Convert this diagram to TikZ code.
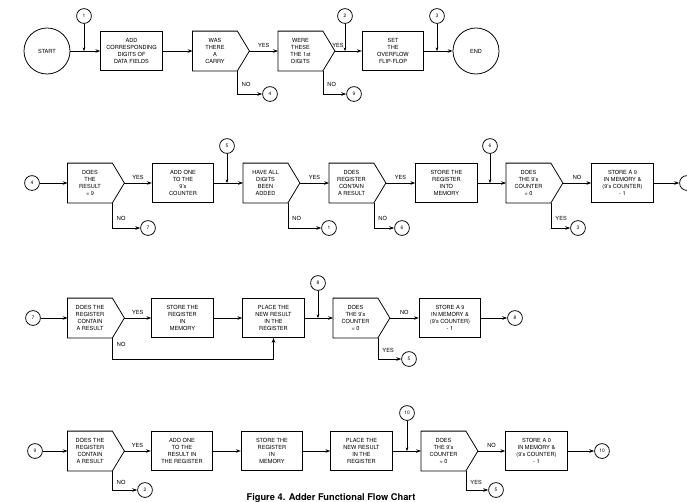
\documentclass[tikz,border=0pt]{standalone}
\usepackage{fontspec}
\setmainfont{TeX Gyre Heros}
\usetikzlibrary{arrows.meta, positioning, calc}

\begin{document}
\begin{tikzpicture}[
      x=0.025cm, y=-0.025cm, line width=0.55pt,
      every node/.style={font=\fontsize{4}{5}\selectfont, inner sep=0pt},
      process/.style={draw, rectangle, minimum width=1.54cm, minimum height=0.975cm, align=center},
      decision/.style={rectangle, minimum width=1.1cm, minimum height=0.975cm, align=center},
      terminal/.style={draw, circle, minimum size=1.15cm},
      conn/.style={draw, circle, minimum size=0.37cm, font=\fontsize{3.5}{4}\selectfont},
      msg/.style={-{Stealth[length=3.5pt, width=2.5pt]}},
      tap/.style={-{Stealth[length=2.5pt, width=2pt]}},
      lbl/.style={above=2pt, midway},
      side/.style={right=3pt, pos=0.3}
    ]
    \useasboundingbox (0,0) rectangle (687,502);

    % Zeile 1
    \node[terminal] (start) at (47,51)     {START};
    \node[process]  (add)   at (131.5,51)  {ADD\\CORRESPONDING\\DIGITS OF\\DATA FIELDS};
    \node[decision] (carry) at (215,51)    {WAS\\THERE\\A\\CARRY};
    \node[decision] (first) at (300.5,51)  {WERE\\THESE\\THE 1st\\DIGITS};
    \node[process]  (flip)  at (393,51)    {SET\\THE\\OVERFLOW\\FLIP-FLOP};
    \node[terminal] (stop)  at (476,51)    {END};
    \node[conn] (c1a) at (84,16)  {1};
    \node[conn] (c2a) at (345,16) {2};
    \node[conn] (c3a) at (437,16) {3};
    \node[conn] (c4a) at (270,94) {4};
    \node[conn] (c9a) at (354,94) {9};

    % Zeile 2
    \node[conn]     (c4b)     at (32,183)    {4};
    \node[decision] (res9)    at (90,183)    {DOES\\THE\\RESULT\\= 9};
    \node[process]  (addnine) at (183,183)   {ADD ONE\\TO THE\\9's\\COUNTER};
    \node[decision] (alldone) at (265.5,183) {HAVE ALL\\DIGITS\\BEEN\\ADDED};
    \node[decision] (regres)  at (351.5,183) {DOES\\REGISTER\\CONTAIN\\A RESULT};
    \node[process]  (intomem) at (446.5,183) {STORE THE\\REGISTER\\INTO\\MEMORY};
    \node[decision] (cnt9)    at (528.5,183) {DOES\\THE 9's\\COUNTER\\= 0};
    \node[process]  (store9)  at (622.5,183) {STORE A 9\\IN MEMORY \&\\(9's COUNTER)\\- 1};
    \node[conn] (cout) at (687,183) {};
    \node[conn] (c5b)  at (227,146) {5};
    \node[conn] (c6b)  at (490,146) {6};
    \node[conn] (c7b)  at (148,228) {7};
    \node[conn] (c1b)  at (329,228) {1};
    \node[conn] (c6c)  at (402,228) {6};
    \node[conn] (c3b)  at (578,228) {3};

    % Zeile 3
    \node[conn]     (c7c)     at (33,318)    {7};
    \node[decision] (reg3)    at (90,318)    {DOES THE\\REGISTER\\CONTAIN\\A RESULT};
    \node[process]  (inmem3)  at (182.5,318) {STORE THE\\REGISTER\\IN\\MEMORY};
    \node[process]  (place3)  at (273.5,318) {PLACE THE\\NEW RESULT\\IN THE\\REGISTER};
    \node[decision] (cnt3)    at (355.5,318) {DOES\\THE 9's\\COUNTER\\= 0};
    \node[process]  (store93) at (450,318)   {STORE A 9\\IN MEMORY \&\\(9's COUNTER)\\- 1};
    \node[conn] (c8a) at (318,283) {8};
    \node[conn] (c8b) at (515,318) {8};
    \node[conn] (c5c) at (409,359) {5};

    % Zeile 4
    \node[conn]     (c9b)    at (35,451)    {9};
    \node[decision] (reg4)   at (90,451)    {DOES THE\\REGISTER\\CONTAIN\\A RESULT};
    \node[process]  (addres) at (182,451)   {ADD ONE\\TO THE\\RESULT IN\\THE REGISTER};
    \node[process]  (inmem4) at (272,451)   {STORE THE\\REGISTER\\IN\\MEMORY};
    \node[process]  (place4) at (361.5,451) {PLACE THE\\NEW RESULT\\IN THE\\REGISTER};
    \node[decision] (cnt4)   at (443.5,451) {DOES\\THE 9's\\COUNTER\\= 0};
    \node[process]  (store0) at (536.5,451) {STORE A 0\\IN MEMORY \&\\(9's COUNTER)\\- 1};
    \node[conn] (c10a) at (407,413) {10};
    \node[conn] (c10b) at (602,451) {10};
    \node[conn] (c2b)  at (145,490) {2};
    \node[conn] (c5d)  at (496,490) {5};

    % Entscheidungen (Rahmen mit Spitze)
    \foreach \d in {carry,first,res9,alldone,regres,cnt9,reg3,cnt3,reg4,cnt4} {
      \coordinate (\d-tip) at ($(\d.east)+(12,0)$);
      \draw (\d.north west) -- (\d.north east) -- (\d-tip) -- (\d.south east) -- (\d.south west) -- cycle;
    }

    % Verbindungen Zeile 1
    \draw[msg] (start) -- (add);
    \draw[tap] (c1a) -- (c1a |- start.east);
    \draw[msg] (add) -- (carry);
    \draw[msg] (carry-tip) -- node[lbl]{YES} (first);
    \draw[msg] (carry.south east) |- node[side]{NO} (c4a);
    \draw[msg] (first-tip) -- node[lbl, pos=0.12]{YES} (flip);
    \draw[tap] (c2a) -- (c2a |- flip.west);
    \draw[msg] (first.south east) |- node[side]{NO} (c9a);
    \draw[msg] (flip) -- (stop);
    \draw[tap] (c3a) -- (c3a |- stop.west);

    % Verbindungen Zeile 2
    \draw[msg] (c4b) -- (res9);
    \draw[msg] (res9-tip) -- node[lbl]{YES} (addnine);
    \draw[msg] (res9.south east) |- node[side]{NO} (c7b);
    \draw[msg] (addnine) -- (alldone);
    \draw[tap] (c5b) -- (c5b |- addnine.east);
    \draw[msg] (alldone-tip) -- node[lbl]{YES} (regres);
    \draw[msg] (alldone.south east) |- node[side]{NO} (c1b);
    \draw[msg] (regres-tip) -- node[lbl]{YES} (intomem);
    \draw[msg] (regres.south east) |- node[side]{NO} (c6c);
    \draw[msg] (intomem) -- (cnt9);
    \draw[tap] (c6b) -- (c6b |- intomem.east);
    \draw[msg] (cnt9-tip) -- node[lbl]{NO} (store9);
    \draw[msg] (cnt9.south east) |- node[side]{YES} (c3b);
    \draw[msg] (store9) -- (cout);

    % Verbindungen Zeile 3
    \draw[msg] (c7c) -- (reg3);
    \draw[msg] (reg3-tip) -- node[lbl]{YES} (inmem3);
    \draw[msg] (reg3.south east) -- node[side]{NO} ++(0,21) -| (place3.south);
    \draw[msg] (inmem3) -- (place3);
    \draw[msg] (place3) -- (cnt3);
    \draw[tap] (c8a) -- (c8a |- place3.east);
    \draw[msg] (cnt3-tip) -- node[lbl]{NO} (store93);
    \draw[msg] (cnt3.south east) |- node[side]{YES} (c5c);
    \draw[msg] (store93) -- (c8b);

    % Verbindungen Zeile 4
    \draw[msg] (c9b) -- (reg4);
    \draw[msg] (reg4-tip) -- node[lbl]{YES} (addres);
    \draw[msg] (reg4.south east) |- node[side]{NO} (c2b);
    \draw[msg] (addres) -- (inmem4);
    \draw[msg] (inmem4) -- (place4);
    \draw[msg] (place4) -- (cnt4);
    \draw[tap] (c10a) -- (c10a |- place4.east);
    \draw[msg] (cnt4-tip) -- node[lbl]{NO} (store0);
    \draw[msg] (cnt4.south east) |- node[side]{YES} (c5d);
    \draw[msg] (store0) -- (c10b);

    % Bildunterschrift
    \node[font=\fontsize{6.6}{7.5}\selectfont\bfseries] (caption) at (331,498) {Figure 4. Adder Functional Flow Chart};
  \end{tikzpicture}
\end{document}
